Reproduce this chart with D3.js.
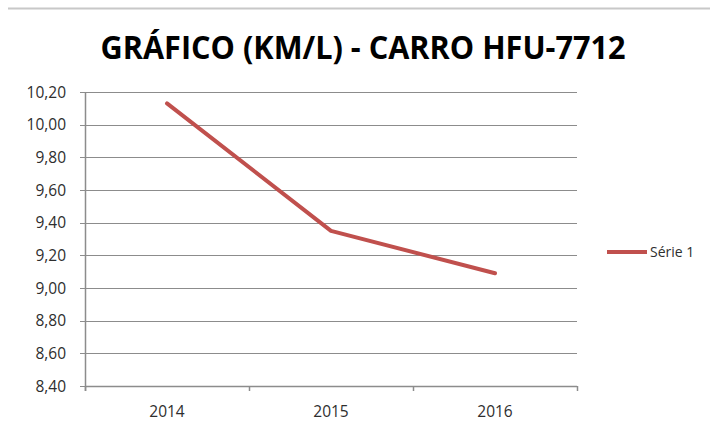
<!DOCTYPE html>
<html>
<head>
<meta charset="utf-8">
<script src="https://cdn.jsdelivr.net/npm/d3@7"></script>
<style>
  html, body { margin: 0; padding: 0; background: #fff; }
  text { font-family: "Open Sans", "Noto Sans", sans-serif; }
</style>
</head>
<body>
<div id="chart"></div>
<script>
// chart data
const years = ["2014", "2015", "2016"];
const kmPerLitre = [10.13, 9.35, 9.09];
const yTicks = [8.4, 8.6, 8.8, 9.0, 9.2, 9.4, 9.6, 9.8, 10.0, 10.2];
const seriesName = "Série 1";
const title = "GRÁFICO (KM/L) - CARRO HFU-7712";

const width = 710;
const height = 432;
const margin = { top: 92, right: 133, bottom: 46, left: 85 };

const svg = d3.select("#chart")
  .append("svg")
  .attr("width", width)
  .attr("height", height)
  .style("background", "white");

// thin line across the top
svg.append("line")
  .attr("x1", 8).attr("x2", width)
  .attr("y1", 8.5).attr("y2", 8.5)
  .attr("stroke", "#c8c8c8")
  .attr("stroke-width", 2);

const innerWidth = width - margin.left - margin.right;
const innerHeight = height - margin.top - margin.bottom;

const g = svg.append("g")
  .attr("transform", `translate(${margin.left},${margin.top})`);

const x = d3.scaleBand()
  .domain(years)
  .range([0, innerWidth]);

const y = d3.scaleLinear()
  .domain([8.4, 10.2])
  .range([innerHeight, 0]);

const fmt = v => d3.format(".2f")(v).replace(".", ",");

// gridlines
g.append("g")
  .selectAll("line")
  .data(yTicks)
  .join("line")
  .attr("x1", -5)
  .attr("x2", innerWidth)
  .attr("y1", d => Math.round(y(d)) + 0.5)
  .attr("y2", d => Math.round(y(d)) + 0.5)
  .attr("stroke", "#8c8c8c")
  .attr("stroke-width", 1.2);

// y axis line
g.append("line")
  .attr("x1", 0.5).attr("x2", 0.5)
  .attr("y1", 0).attr("y2", innerHeight + 5)
  .attr("stroke", "#8c8c8c")
  .attr("stroke-width", 1.5);

// y tick labels
g.append("g")
  .selectAll("text")
  .data(yTicks)
  .join("text")
  .attr("x", -19)
  .attr("y", d => y(d) + 5.5)
  .attr("text-anchor", "end")
  .attr("font-size", "15.5px")
  .attr("fill", "#2e2e2e")
  .text(fmt);

// x axis line + ticks between categories
g.append("line")
  .attr("x1", 0).attr("x2", innerWidth)
  .attr("y1", Math.round(innerHeight) + 0.5)
  .attr("y2", Math.round(innerHeight) + 0.5)
  .attr("stroke", "#8c8c8c")
  .attr("stroke-width", 1.5);

g.append("g")
  .selectAll("line")
  .data(years.concat(["end"]))
  .join("line")
  .attr("x1", (d, i) => i * x.bandwidth() + 0.5)
  .attr("x2", (d, i) => i * x.bandwidth() + 0.5)
  .attr("y1", innerHeight)
  .attr("y2", innerHeight + 5)
  .attr("stroke", "#8c8c8c")
  .attr("stroke-width", 1.5);

// x tick labels
g.append("g")
  .selectAll("text")
  .data(years)
  .join("text")
  .attr("x", d => x(d) + x.bandwidth() / 2)
  .attr("y", innerHeight + 31)
  .attr("text-anchor", "middle")
  .attr("font-size", "15.5px")
  .attr("fill", "#2e2e2e")
  .text(d => d);

// series line
const line = d3.line()
  .x((d, i) => x(years[i]) + x.bandwidth() / 2)
  .y(d => y(d));

g.append("path")
  .datum(kmPerLitre)
  .attr("d", line)
  .attr("fill", "none")
  .attr("stroke", "#c0504d")
  .attr("stroke-width", 4)
  .attr("stroke-linecap", "round")
  .attr("stroke-linejoin", "round");

// title
svg.append("text")
  .attr("x", 363)
  .attr("y", 59)
  .attr("text-anchor", "middle")
  .attr("font-size", "33px")
  .attr("font-weight", "700")
  .attr("fill", "#000")
  .attr("textLength", 525)
  .attr("lengthAdjust", "spacingAndGlyphs")
  .text(title);

// legend
const legend = svg.append("g").attr("transform", "translate(607,252)");
legend.append("line")
  .attr("x1", 0).attr("x2", 40)
  .attr("y1", 0).attr("y2", 0)
  .attr("stroke", "#c0504d")
  .attr("stroke-width", 4);
legend.append("text")
  .attr("x", 43)
  .attr("y", 5)
  .attr("font-size", "14px")
  .attr("fill", "#2e2e2e")
  .text(seriesName);
</script>
</body>
</html>
